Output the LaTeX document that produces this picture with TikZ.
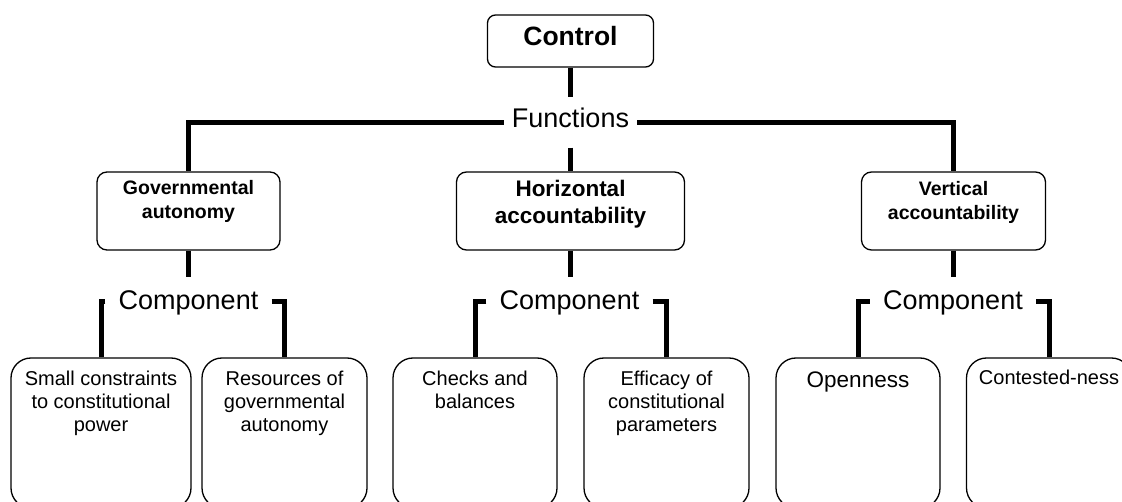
\documentclass[tikz,border=0pt]{standalone}
\usepackage{fontspec}
\setmainfont{Liberation Sans}
\usepackage{tikz}
\usetikzlibrary{positioning,calc}

\newcommand{\boxtext}[4]{\parbox[c][#2pt][t]{#1pt}{\centering\rule{0pt}{#3pt}#4}}

\begin{document}
\begin{tikzpicture}[
x=1pt,y=-1pt,
box/.style={
  draw,
  line width=1.3pt,
  rounded corners=10pt,
  inner sep=0pt},
leaf/.style={
  box,
  rounded corners=20pt,
  font=\fontsize{20}{23.3}\selectfont},
head/.style={
  box,
  font=\bfseries\fontsize{19.5}{24}\selectfont},
link/.style={line width=5pt},
tag/.style={
  inner xsep=0pt,
  minimum height=50pt,
  text height=19.5pt,
  font=\fontsize{27}{30}\selectfont}
]
\useasboundingbox (0,0) rectangle (1122,502);
% top
\node[box, rounded corners=8pt, font=\bfseries\fontsize{26.5}{30}\selectfont]
  (ctrl) at (570.5,41) {\boxtext{166}{52}{31}{Control}};
\node[tag, text depth=9pt, minimum width=133pt] (func) at (570.5,122.5) {Functions};
% functions
\node[head] (gov) at (188.5,211) {\boxtext{183}{78}{23}{Governmental\\autonomy}};
\node[head, font=\bfseries\fontsize{22.5}{27}\selectfont]
  (hor) at (570.5,211) {\boxtext{228}{78}{25}{Horizontal\\accountability}};
\node[head] (vert) at (953.5,211) {\boxtext{184}{78}{24}{Vertical\\accountability}};
% components
\foreach \Grp/\X in {A/188.5,B/569.5,C/953}
  \node[tag, text depth=5pt, minimum width=166pt] (comp\Grp) at (\X,302) {Component};
% leaves
\node[leaf] (leafA1) at (101,433) {\boxtext{180}{150}{27}{Small constraints\\to constitutional\\power}};
\node[leaf] (leafA2) at (284.5,433) {\boxtext{165}{150}{27}{Resources of\\governmental\\autonomy}};
\node[leaf] (leafB1) at (475,433) {\boxtext{164}{150}{27}{Checks and\\balances}};
\node[leaf] (leafB2) at (666.5,433) {\boxtext{165}{150}{27}{Efficacy of\\constitutional\\parameters}};
\node[leaf, font=\fontsize{22.5}{26}\selectfont]
  (leafC1) at (858,433) {\boxtext{164}{150}{29}{Openness}};
\node[leaf] (leafC2) at (1049,433) {\boxtext{165}{150}{26}{Contested-ness}};
% links
\draw[link] (ctrl) -- (func);
\draw[link] (func) -- (hor);
\draw[link] (func.west) -| (gov.north);
\draw[link] (func.east) -| (vert.north);
\draw[link] (gov) -- (compA);
\draw[link] (hor.south) -- (compB.north -| hor.south);
\draw[link] (vert.south) -- (compC.north -| vert.south);
\foreach \Grp in {A,B,C} {
  \draw[link] (comp\Grp.west) -| (leaf\Grp1.north);
  \draw[link] (comp\Grp.east) -| (leaf\Grp2.north);
}
\end{tikzpicture}
\end{document}
